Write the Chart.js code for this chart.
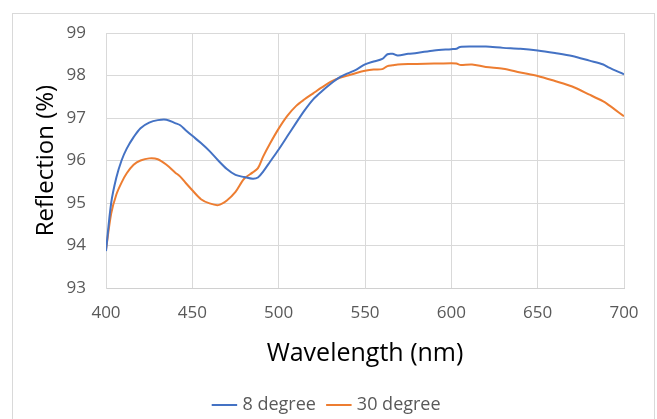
<!DOCTYPE html>
<html>
<head>
<meta charset="utf-8">
<script src="https://cdn.jsdelivr.net/npm/chart.js@4.4.0/dist/chart.umd.min.js"></script>
<style>
  html, body { margin: 0; padding: 0; background: #fff; overflow: hidden; }
  #frame { position: absolute; left: 12px; top: 13px; width: 641px; height: 500px; border: 1px solid #d9d9d9; }
  #wrap { position: absolute; left: 0; top: 0; width: 657px; height: 419px; }
</style>
</head>
<body>
<div id="frame"></div>
<div id="wrap"><canvas id="line_chart" width="657" height="419"></canvas></div>
<script>
// wavelength (nm)
var wavelength = [400, 403, 406, 409, 412, 416, 420, 425, 430, 435, 440, 443, 446, 450, 455, 460, 465, 470, 475, 480,
    485, 488, 491, 495, 500, 505, 510, 515, 520, 525, 530, 535, 540, 545, 550, 555, 560, 563, 566, 569,
    575, 580, 590, 600, 603, 605, 612, 620, 630, 640, 650, 660, 670, 680, 688, 691, 700];

// reflection (%) at 8 degree
var deg8 = [93.87, 95.0, 95.6, 96.0, 96.28, 96.55, 96.76, 96.89, 96.95, 96.96, 96.88, 96.83, 96.72, 96.58, 96.41, 96.22, 96.0, 95.8, 95.66, 95.61,
    95.57, 95.6, 95.74, 95.97, 96.26, 96.57, 96.88, 97.18, 97.44, 97.63, 97.8, 97.95, 98.05, 98.14, 98.26, 98.33, 98.39, 98.5, 98.51, 98.47,
    98.51, 98.53, 98.59, 98.62, 98.63, 98.67, 98.68, 98.68, 98.65, 98.63, 98.59, 98.53, 98.46, 98.35, 98.26, 98.19, 98.03];

// reflection (%) at 30 degree
var deg30 = [93.9, 94.75, 95.2, 95.48, 95.7, 95.9, 96.0, 96.05, 96.03, 95.9, 95.72, 95.62, 95.48, 95.3, 95.09, 94.99, 94.95, 95.06, 95.26, 95.57,
    95.72, 95.82, 96.09, 96.4, 96.75, 97.05, 97.28, 97.44, 97.58, 97.72, 97.85, 97.94, 98.0, 98.06, 98.11, 98.14, 98.15, 98.22, 98.24, 98.26,
    98.27, 98.27, 98.28, 98.29, 98.28, 98.25, 98.26, 98.2, 98.16, 98.07, 97.99, 97.87, 97.74, 97.55, 97.39, 97.31, 97.04];

var seriesNames = ["8 degree", "30 degree"];

function toPoints(xs, ys) {
    var pts = [];
    for (var i = 0; i < xs.length; i++) {
        pts.push({ x: xs[i], y: ys[i] });
    }
    return pts;
}

var fontName = "'Open Sans', 'Noto Sans', sans-serif";

var ctx = document.getElementById("line_chart").getContext("2d");
var myChart = new Chart(ctx, {
    type: "line",
    data: {
        datasets: [{
            label: seriesNames[0],
            data: toPoints(wavelength, deg8),
            borderColor: "#4472C4",
            backgroundColor: "#4472C4",
            borderWidth: 2,
            pointRadius: 0,
            tension: 0.3,
            fill: false
        }, {
            label: seriesNames[1],
            data: toPoints(wavelength, deg30),
            borderColor: "#ED7D31",
            backgroundColor: "#ED7D31",
            borderWidth: 2,
            pointRadius: 0,
            tension: 0.3,
            fill: false
        }]
    },
    options: {
        responsive: false,
        animation: false,
        layout: { padding: { left: 32, top: 33, right: 33, bottom: -5 } },
        plugins: {
            tooltip: { enabled: false },
            legend: {
                position: "bottom",
                labels: {
                    usePointStyle: true,
                    pointStyle: "line",
                    boxWidth: 23,
                    padding: 14,
                    color: "#595959",
                    font: { family: fontName, size: 18 }
                }
            }
        },
        scales: {
            x: {
                type: "linear",
                min: 400,
                max: 700,
                ticks: { stepSize: 50, padding: 15, color: "#595959", font: { family: fontName, size: 17 } },
                grid: { color: "#d9d9d9", drawTicks: false },
                border: { color: "#d0d0d0" },
                title: { display: true, text: "Wavelength (nm)", color: "#000", font: { family: fontName, size: 25 }, padding: { top: 0, bottom: 13 } },
                afterFit: function (scale) { scale.height = 94; }
            },
            y: {
                min: 93,
                max: 99,
                ticks: { stepSize: 1, padding: 20, color: "#595959", font: { family: fontName, size: 17 } },
                grid: { color: "#d9d9d9", drawTicks: false },
                border: { color: "#d9d9d9" },
                title: { display: true, text: "Reflection (%)", color: "#000", font: { family: fontName, size: 24 }, padding: 0 },
                afterFit: function (scale) { scale.width = 74; }
            }
        }
    }
});
</script>
</body>
</html>
